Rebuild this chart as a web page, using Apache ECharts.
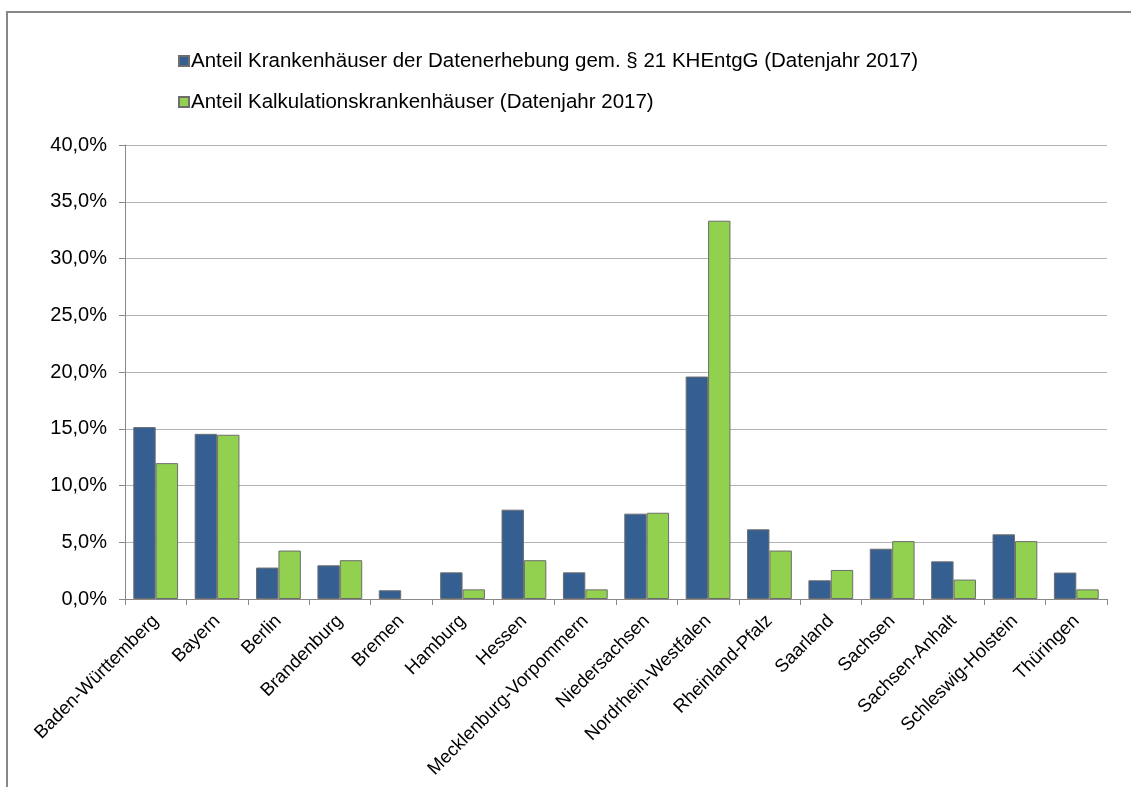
<!DOCTYPE html>
<html><head><meta charset="utf-8">
<script src="https://cdn.jsdelivr.net/npm/echarts@6/dist/echarts.min.js"></script>
<style>html,body{margin:0;padding:0;background:#fff}#c{width:1131px;height:787px}</style>
</head><body><div id="c"></div>
<script>
const categories = ["Baden-Württemberg","Bayern","Berlin","Brandenburg","Bremen","Hamburg","Hessen","Mecklenburg-Vorpommern","Niedersachsen","Nordrhein-Westfalen","Rheinland-Pfalz","Saarland","Sachsen","Sachsen-Anhalt","Schleswig-Holstein","Thüringen"];
const seriesNames = ["Anteil Krankenhäuser der Datenerhebung gem. § 21 KHEntgG (Datenjahr 2017)","Anteil Kalkulationskrankenhäuser (Datenjahr 2017)"];
const datenerhebung = [15.15,14.55,2.77,2.97,0.77,2.35,7.87,2.35,7.52,19.6,6.14,1.65,4.43,3.32,5.7,2.33];
const kalkulation = [11.97,14.47,4.27,3.42,0,0.85,3.42,0.85,7.6,33.33,4.27,2.56,5.1,1.71,5.1,0.85];
const yTicks = {min:0,max:40,interval:5};

const chart = echarts.init(document.getElementById('c'));
const font = 'Liberation Sans, Arial, sans-serif';
const toBar = arr => arr.map(v => v === 0 ? '-' : v);
chart.setOption({
  animation:false,
  textStyle:{fontFamily:font},
  legend:{
    orient:'vertical', left:173, top:45, itemGap:19,
    itemWidth:10, itemHeight:10, icon:'rect',
    textStyle:{fontSize:20.5,lineHeight:22,color:'#000',fontFamily:font,padding:[0,0,0,-3]},
    data:seriesNames
  },
  grid:{left:125,right:24,top:145,bottom:188,containLabel:false},
  xAxis:{
    type:'category', data:categories,
    axisLine:{lineStyle:{color:'#888',width:1}},
    axisTick:{show:true,length:6,lineStyle:{color:'#888'},alignWithLabel:false},
    axisLabel:{rotate:45,fontSize:18.5,color:'#000',margin:19,interval:0,fontFamily:font}
  },
  yAxis:{
    type:'value', min:yTicks.min, max:yTicks.max, interval:yTicks.interval,
    axisLine:{show:true,lineStyle:{color:'#888'}},
    axisTick:{show:true,length:6,lineStyle:{color:'#888'}},
    splitLine:{lineStyle:{color:'#b3b3b3',width:1}},
    axisLabel:{fontSize:20,color:'#000',margin:18,fontFamily:font,
      formatter:v=>v.toFixed(1).replace('.',',')+'%'}
  },
  series:[
    {name:seriesNames[0],type:'bar',data:toBar(datenerhebung),barGap:'0%',barCategoryGap:'27%',
     itemStyle:{color:'#365F91',borderColor:'#6e6e6e',borderWidth:1}},
    {name:seriesNames[1],type:'bar',data:toBar(kalkulation),barGap:'0%',barCategoryGap:'27%',
     itemStyle:{color:'#92D050',borderColor:'#6e6e6e',borderWidth:1}}
  ],
  graphic:[
    {type:'line',shape:{x1:6,y1:12,x2:1131,y2:12},style:{stroke:'#888',lineWidth:2}},
    {type:'line',shape:{x1:7,y1:12,x2:7,y2:787},style:{stroke:'#888',lineWidth:2}}
  ]
});
</script></body></html>
